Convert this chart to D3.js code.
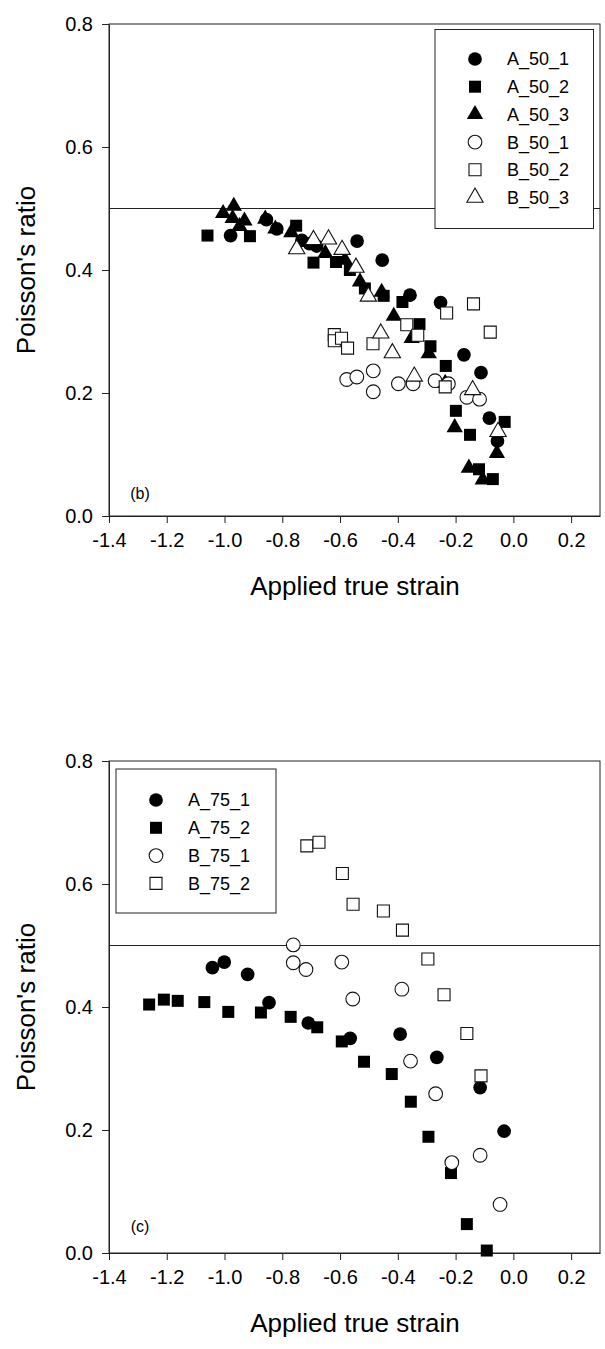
<!DOCTYPE html>
<html>
<head>
<meta charset="utf-8">
<script src="https://cdn.jsdelivr.net/npm/d3@7/dist/d3.min.js"></script>
<style>
  html, body { margin: 0; padding: 0; background: #fff; }
  svg { display: block; }
  text { font-family: "Liberation Sans", Arial, sans-serif; fill: #000; }
</style>
</head>
<body>
<svg id="chart" width="605" height="1349"></svg>
<script>
// ---------- Data ----------
const xTicks = [-1.4, -1.2, -1.0, -0.8, -0.6, -0.4, -0.2, 0.0, 0.2];
const yTicks = [0.0, 0.2, 0.4, 0.6, 0.8];
const xTitle = "Applied true strain";
const yTitle = "Poisson's ratio";
const refLine = 0.5;

// Panel (b)
const A_50_1 = [[-0.979,0.456],[-0.855,0.482],[-0.819,0.467],[-0.732,0.448],[-0.706,0.443],[-0.681,0.439],
  [-0.541,0.447],[-0.454,0.416],[-0.358,0.359],[-0.252,0.347],[-0.171,0.262],[-0.112,0.233],[-0.083,0.159],[-0.055,0.122]];
const A_50_2 = [[-1.059,0.456],[-0.912,0.455],[-0.752,0.472],[-0.692,0.412],[-0.614,0.413],[-0.566,0.400],
  [-0.514,0.370],[-0.449,0.358],[-0.384,0.348],[-0.325,0.312],[-0.287,0.276],[-0.234,0.244],[-0.199,0.171],
  [-0.150,0.132],[-0.119,0.076],[-0.071,0.060],[-0.030,0.153]];
const A_50_3 = [[-1.005,0.492],[-0.968,0.504],[-0.972,0.484],[-0.931,0.480],[-0.948,0.471],[-0.859,0.483],
  [-0.824,0.467],[-0.769,0.461],[-0.651,0.427],[-0.583,0.416],[-0.531,0.381],[-0.456,0.364],[-0.414,0.325],
  [-0.352,0.289],[-0.293,0.264],[-0.236,0.216],[-0.203,0.144],[-0.154,0.078],[-0.106,0.059],[-0.057,0.102]];
const B_50_1 = [[-0.577,0.222],[-0.542,0.226],[-0.485,0.236],[-0.485,0.202],[-0.398,0.215],[-0.347,0.215],
  [-0.271,0.220],[-0.225,0.215],[-0.161,0.193],[-0.117,0.190]];
const B_50_2 = [[-0.620,0.295],[-0.620,0.285],[-0.595,0.289],[-0.574,0.273],[-0.486,0.280],[-0.369,0.311],
  [-0.331,0.294],[-0.236,0.210],[-0.231,0.330],[-0.138,0.345],[-0.080,0.299]];
const B_50_3 = [[-0.750,0.434],[-0.692,0.449],[-0.640,0.450],[-0.593,0.433],[-0.545,0.404],[-0.502,0.357],
  [-0.459,0.297],[-0.419,0.265],[-0.343,0.227],[-0.141,0.205],[-0.053,0.137]];

// Panel (c)
const A_75_1 = [[-1.042,0.464],[-1.001,0.473],[-0.920,0.453],[-0.846,0.407],[-0.710,0.374],[-0.565,0.349],
  [-0.392,0.356],[-0.265,0.318],[-0.115,0.269],[-0.032,0.198]];
const A_75_2 = [[-1.261,0.404],[-1.210,0.412],[-1.162,0.410],[-1.070,0.408],[-0.987,0.392],[-0.874,0.391],
  [-0.771,0.384],[-0.679,0.367],[-0.594,0.344],[-0.517,0.311],[-0.421,0.291],[-0.355,0.246],[-0.294,0.189],
  [-0.216,0.130],[-0.161,0.047],[-0.092,0.004]];
const B_75_1 = [[-0.762,0.501],[-0.762,0.472],[-0.718,0.461],[-0.594,0.473],[-0.556,0.413],[-0.386,0.429],
  [-0.356,0.312],[-0.269,0.259],[-0.213,0.147],[-0.115,0.159],[-0.046,0.079]];
const B_75_2 = [[-0.715,0.662],[-0.673,0.668],[-0.592,0.617],[-0.555,0.567],[-0.450,0.556],[-0.384,0.525],
  [-0.296,0.478],[-0.240,0.420],[-0.161,0.357],[-0.112,0.288]];

const seriesB = [
  {name:"A_50_1", shape:"circle",   filled:true,  data:A_50_1},
  {name:"A_50_2", shape:"square",   filled:true,  data:A_50_2},
  {name:"A_50_3", shape:"triangle", filled:true,  data:A_50_3},
  {name:"B_50_1", shape:"circle",   filled:false, data:B_50_1},
  {name:"B_50_2", shape:"square",   filled:false, data:B_50_2},
  {name:"B_50_3", shape:"triangle", filled:false, data:B_50_3}
];
const seriesC = [
  {name:"A_75_1", shape:"circle", filled:true,  data:A_75_1},
  {name:"A_75_2", shape:"square", filled:true,  data:A_75_2},
  {name:"B_75_1", shape:"circle", filled:false, data:B_75_1},
  {name:"B_75_2", shape:"square", filled:false, data:B_75_2}
];

// ---------- Drawing ----------
const svg = d3.select("#chart");
const xDomain = [-1.4, 0.3];
const yDomain = [0, 0.8];

const symbolOf = {
  circle:   d3.symbol().type(d3.symbolCircle).size(148),
  square:   d3.symbol().type(d3.symbolSquare).size(144),
  triangle: d3.symbol().type(d3.symbolTriangle).size(115)
};

function drawMarker(sel, s) {
  sel.attr("d", symbolOf[s.shape]())
     .attr("fill", s.filled ? "#000" : "#fff")
     .attr("stroke", s.filled ? "none" : "#111")
     .attr("stroke-width", s.filled ? 0 : 1.1);
}

function panel(cfg) {
  const {left, right, top, bottom, series, label, legend} = cfg;
  const x = d3.scaleLinear().domain(xDomain).range([left, right]);
  const y = d3.scaleLinear().domain(yDomain).range([bottom, top]);
  const g = svg.append("g");

  // frame
  g.append("rect").attr("x", left).attr("y", top)
    .attr("width", right - left).attr("height", bottom - top)
    .attr("fill", "none").attr("stroke", "#222").attr("stroke-width", 1);

  // reference line
  g.append("line").attr("x1", x(xDomain[0])).attr("x2", x(xDomain[1]))
    .attr("y1", y(refLine)).attr("y2", y(refLine))
    .attr("stroke", "#222").attr("stroke-width", 1);

  // axes
  const fmt = d => d.toFixed(1);
  const xa = g.append("g").attr("transform", `translate(0,${bottom})`)
    .call(d3.axisBottom(x).tickValues(xTicks).tickFormat(fmt).tickSize(7).tickSizeOuter(0).tickPadding(10));
  const ya = g.append("g").attr("transform", `translate(${left},0)`)
    .call(d3.axisLeft(y).tickValues(yTicks).tickFormat(fmt).tickSize(7).tickSizeOuter(0).tickPadding(9));
  [xa, ya].forEach(a => {
    a.select(".domain").attr("stroke", "#222");
    a.selectAll(".tick line").attr("stroke", "#222");
    a.selectAll(".tick text").style("font-family", '"Liberation Sans", Arial, sans-serif')
      .style("font-size", "20px").attr("fill", "#000");
  });

  // titles
  g.append("text").attr("x", 355).attr("y", bottom + 79)
    .attr("text-anchor", "middle").style("font-size", "26px").text(xTitle);
  g.append("text").attr("transform", `translate(35,${(top + bottom) / 2}) rotate(-90)`)
    .attr("text-anchor", "middle").style("font-size", "26px").text(yTitle);

  // panel label
  g.append("text").attr("x", label.x).attr("y", label.y).attr("text-anchor", "middle")
    .style("font-size", "16px").text(label.text);

  // points
  series.forEach(s => {
    g.append("g").selectAll("path").data(s.data).join("path")
      .attr("transform", d => `translate(${x(d[0])},${y(d[1])})`)
      .call(sel => drawMarker(sel, s));
  });

  // legend
  const lg = g.append("g");
  lg.append("rect").attr("x", legend.x0).attr("y", legend.y0)
    .attr("width", legend.x1 - legend.x0).attr("height", legend.y1 - legend.y0)
    .attr("fill", "#fff").attr("stroke", "#222").attr("stroke-width", 1);
  series.forEach((s, i) => {
    const cy = legend.row0 + i * legend.step;
    lg.append("path").attr("transform", `translate(${legend.sx},${cy})`).call(sel => drawMarker(sel, s));
    lg.append("text").attr("x", legend.tx).attr("y", cy).attr("dy", "0.36em")
      .style("font-size", "18px").text(s.name);
  });
}

panel({left:109, right:600, top:24, bottom:516, series:seriesB,
  label:{x:140, y:499, text:"(b)"},
  legend:{x0:435, x1:593.5, y0:29.5, y1:228.5, row0:59, step:27.7, sx:475, tx:507}});

panel({left:109, right:600, top:761, bottom:1253, series:seriesC,
  label:{x:140, y:1232, text:"(c)"},
  legend:{x0:116, x1:276, y0:769, y1:913, row0:800, step:27.8, sx:156, tx:188}});
</script>
</body>
</html>
